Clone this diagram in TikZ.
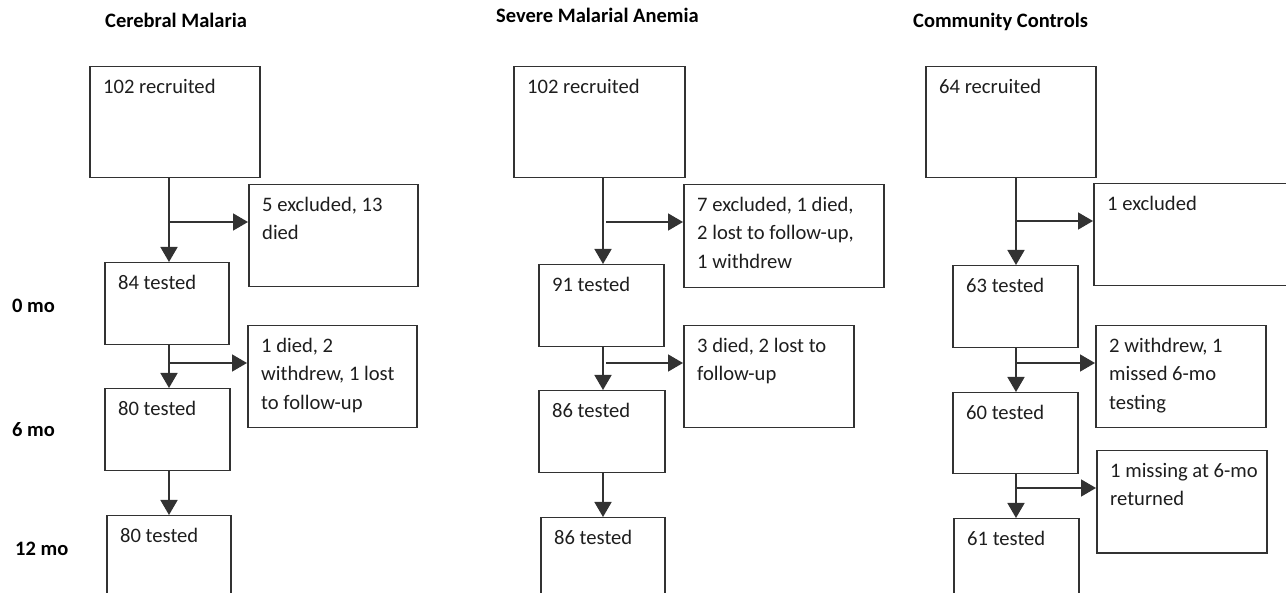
\documentclass[tikz,border=0pt]{standalone}
\usepackage{fontspec}
\setmainfont{Carlito}
\usepackage{tikz}
\usetikzlibrary{arrows.meta, calc}
\usepackage{xcolor}
\definecolor{boxgray}{RGB}{50, 50, 50}
\definecolor{txtgray}{RGB}{30, 30, 30}
\tikzset{
  % Boxes of the flow chart
  flowbox/.style  = {draw=boxgray, line width=1.5pt, anchor=north west, inner sep=0pt},
  boxtext/.style  = {anchor=north west, align=left, inner sep=0pt, text=txtgray,
                     font=\fontsize{20.6}{28.3}\selectfont, xshift=14pt, yshift=-13pt},
  % Arrows
  arr/.style      = {-{Triangle[length=15pt, width=17pt]}, line width=1.6pt, draw=boxgray},
  % Headings
  headtext/.style = {anchor=base west, inner sep=0pt, text=black,
                     font=\fontsize{20.5}{24}\selectfont\bfseries},
}
\begin{document}
\begin{tikzpicture}[x=1pt, y=-1pt]
  \clip (0,0) rectangle (1286,593);

  % Time points
  \node[headtext] (t0)  at (12,313) {0 mo};
  \node[headtext] (t6)  at (12,437) {6 mo};
  \node[headtext] (t12) at (15,555) {12 mo};

  % Cerebral malaria
  \node[headtext] (cmhead) at (105,28) {Cerebral Malaria};
  \node[flowbox, minimum width=170pt, minimum height=111pt,
        label={[boxtext]north west:102 recruited}] (cmrec) at (89,66) {};
  \node[flowbox, minimum width=169pt, minimum height=102pt,
        label={[boxtext]north west:{5 excluded, 13\\died}}] (cmx1) at (248,184) {};
  \node[flowbox, minimum width=124pt, minimum height=82pt,
        label={[boxtext]north west:84 tested}] (cm0) at (104,262) {};
  \node[flowbox, minimum width=169pt, minimum height=102pt,
        label={[boxtext]north west:{1 died, 2\\withdrew, 1 lost\\to follow-up}}] (cmx2) at (247,325) {};
  \node[flowbox, minimum width=125pt, minimum height=82pt,
        label={[boxtext]north west:80 tested}] (cm6) at (104,388) {};
  \node[flowbox, minimum width=124pt, minimum height=110pt,
        label={[boxtext]north west:80 tested}] (cm12) at (106,515) {};
  \coordinate (cmsp) at (169,0);
  \coordinate (cmb1) at (169,222);
  \coordinate (cmb2) at (169,363);
  \draw[arr] (cmrec.south -| cmsp) -- (cm0.north -| cmsp);
  \draw[arr] (cm0.south -| cmsp) -- (cm6.north -| cmsp);
  \draw[arr] (cm6.south -| cmsp) -- (cm12.north -| cmsp);
  \draw[arr] (cmb1) -- (cmb1 -| cmx1.west);
  \draw[arr] (cmb2) -- (cmb2 -| cmx2.west);

  % Severe malarial anemia
  \node[headtext] (smhead) at (496,23) {Severe Malarial Anemia};
  \node[flowbox, minimum width=171pt, minimum height=111pt,
        label={[boxtext]north west:102 recruited}] (smrec) at (513,66) {};
  \node[flowbox, minimum width=200pt, minimum height=103pt,
        label={[boxtext]north west:{7 excluded, 1 died,\\2 lost to follow-up,\\1 withdrew}}] (smx1) at (683,184) {};
  \node[flowbox, minimum width=125pt, minimum height=82pt,
        label={[boxtext]north west:91 tested}] (sm0) at (538,264) {};
  \node[flowbox, minimum width=170pt, minimum height=102pt,
        label={[boxtext]north west:{3 died, 2 lost to\\follow-up}}] (smx2) at (683,325) {};
  \node[flowbox, minimum width=126pt, minimum height=82pt,
        label={[boxtext]north west:86 tested}] (sm6) at (538,390) {};
  \node[flowbox, minimum width=124pt, minimum height=110pt,
        label={[boxtext]north west:86 tested}] (sm12) at (540,517) {};
  \coordinate (smsp) at (603,0);
  \coordinate (smb1) at (606,222);
  \coordinate (smb2) at (606,363);
  \draw[arr] (smrec.south -| smsp) -- (sm0.north -| smsp);
  \draw[arr] (sm0.south -| smsp) -- (sm6.north -| smsp);
  \draw[arr] (sm6.south -| smsp) -- (sm12.north -| smsp);
  \draw[arr] (smb1) -- (smb1 -| smx1.west);
  \draw[arr] (smb2) -- (smb2 -| smx2.west);

  % Community controls
  \node[headtext] (cchead) at (913,28) {Community Controls};
  \node[flowbox, minimum width=170pt, minimum height=111pt,
        label={[boxtext]north west:64 recruited}] (ccrec) at (925,66) {};
  \node[flowbox, minimum width=220pt, minimum height=102pt,
        label={[boxtext]north west:1 excluded}] (ccx1) at (1093,183) {};
  \node[flowbox, minimum width=125pt, minimum height=82pt,
        label={[boxtext]north west:63 tested}] (cc0) at (952,265) {};
  \node[flowbox, minimum width=170pt, minimum height=102pt,
        label={[boxtext]north west:{2 withdrew, 1\\missed 6-mo\\testing}}] (ccx2) at (1095,325) {};
  \node[flowbox, minimum width=125pt, minimum height=81pt,
        label={[boxtext]north west:60 tested}] (cc6) at (952,392) {};
  \node[flowbox, minimum width=170pt, minimum height=102pt,
        label={[boxtext]north west:{1 missing at 6-mo\\returned}}] (ccx3) at (1096,450) {};
  \node[flowbox, minimum width=125pt, minimum height=110pt,
        label={[boxtext]north west:61 tested}] (cc12) at (953,518) {};
  \coordinate (ccsp) at (1016,0);
  \coordinate (ccb1) at (1016,221);
  \coordinate (ccb2) at (1016,363);
  \coordinate (ccb3) at (1016,488);
  \draw[arr] (ccrec.south -| ccsp) -- (cc0.north -| ccsp);
  \draw[arr] (cc0.south -| ccsp) -- (cc6.north -| ccsp);
  \draw[arr] (cc6.south -| ccsp) -- (cc12.north -| ccsp);
  \draw[arr] (ccb1) -- (ccb1 -| ccx1.west);
  \draw[arr] (ccb2) -- (ccb2 -| ccx2.west);
  \draw[arr] (ccb3) -- (ccb3 -| ccx3.west);
\end{tikzpicture}
\end{document}
